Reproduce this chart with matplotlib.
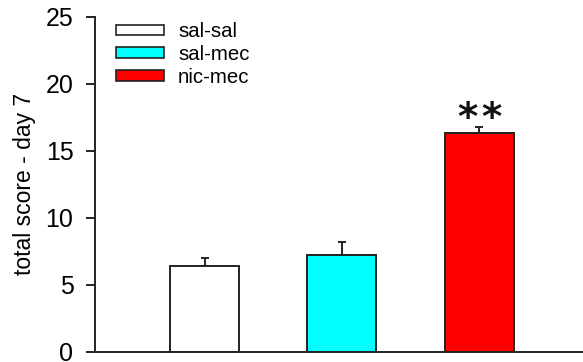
import matplotlib
matplotlib.use("Agg")
import matplotlib.pyplot as plt
from matplotlib.patches import Patch

groups = ["sal-sal", "sal-mec", "nic-mec"]
means = [6.37, 7.2, 16.32]
sems = [0.65, 1.0, 0.42]
colors = ["#ffffff", "#00ffff", "#ff0000"]
yticks = [0, 5, 10, 15, 20, 25]
ylabel = "total score - day 7"
signif = "*"

plt.rcParams['font.family'] = ['Liberation Sans', 'DejaVu Sans']

fig = plt.figure(figsize=(5.83, 3.62), dpi=100)
ax = fig.add_axes([95/583, 10.3/362, 1 - 95/583, 335/362])

edge = "#222222"
x = list(range(len(groups)))
ax.bar(x, means, width=0.503, color=colors, edgecolor=edge, linewidth=1.4, zorder=2)
ax.errorbar(x, means, yerr=[[0]*len(sems), sems], fmt='none', ecolor=edge,
            elinewidth=1.4, capsize=3, capthick=1.4, zorder=1)

ax.set_xlim(-0.799, 2.756)
ax.set_ylim(0, 25)
ax.set_yticks(yticks)
ax.set_xticks([])
ax.tick_params(axis='y', direction='out', length=6.5, width=1.4, color=edge,
               labelsize=18, pad=9)
for s in ['top', 'right']:
    ax.spines[s].set_visible(False)
for s in ['left', 'bottom']:
    ax.spines[s].set_linewidth(1.4)
    ax.spines[s].set_color(edge)
ax.set_ylabel(ylabel, fontsize=16.5, labelpad=7)

for dx in (-0.089, 0.089):
    ax.text(2 + dx, 17.35, signif, ha='center', va='center',
            fontsize=28, fontweight='bold', family=['DejaVu Sans'], color='#111111')

handles = [Patch(facecolor=c, edgecolor=edge, linewidth=1.2, label=g)
           for c, g in zip(colors, groups)]
leg = ax.legend(handles=handles, loc='upper left',
                bbox_to_anchor=(116/583, 1 - 22/362), bbox_transform=fig.transFigure,
                frameon=False, fontsize=14.7, handlelength=2.37, handleheight=0.39,
                labelspacing=0.19, borderpad=0, borderaxespad=0, handletextpad=0.67)

fig.savefig("out.png", dpi=100)
